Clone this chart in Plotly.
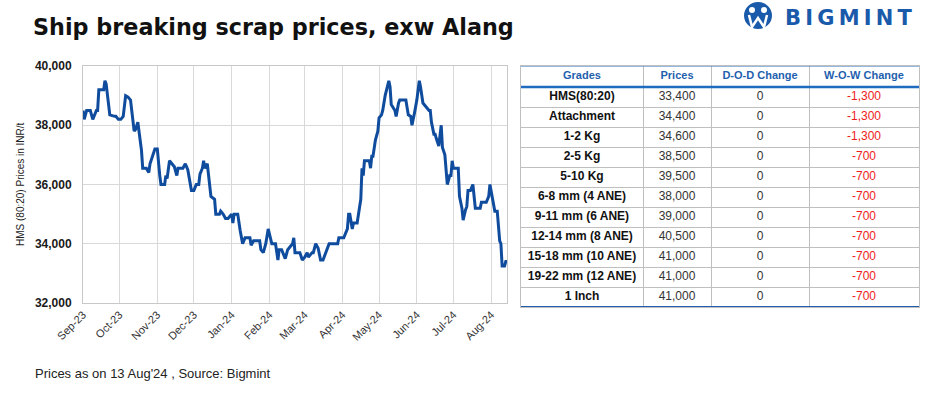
import plotly.graph_objects as go

# ---------------- data ----------------
dates = [
    "2023-09-01", "2023-09-02", "2023-09-04", "2023-09-07", "2023-09-09", "2023-09-12", "2023-09-13",
    "2023-09-14", "2023-09-18", "2023-09-19", "2023-09-20", "2023-09-23", "2023-09-27", "2023-09-28",
    "2023-09-30", "2023-10-02", "2023-10-04", "2023-10-06", "2023-10-08", "2023-10-10", "2023-10-13",
    "2023-10-14", "2023-10-16", "2023-10-17", "2023-10-19", "2023-10-20", "2023-10-23", "2023-10-25",
    "2023-10-26", "2023-10-30", "2023-11-01", "2023-11-03", "2023-11-04", "2023-11-07", "2023-11-08",
    "2023-11-09", "2023-11-11", "2023-11-13", "2023-11-15", "2023-11-17", "2023-11-18", "2023-11-22",
    "2023-11-24", "2023-11-26", "2023-11-29", "2023-12-01", "2023-12-03", "2023-12-05", "2023-12-06",
    "2023-12-08", "2023-12-09", "2023-12-10", "2023-12-12", "2023-12-15", "2023-12-18", "2023-12-19",
    "2023-12-22", "2023-12-23", "2023-12-25", "2023-12-27", "2023-12-29", "2024-01-01", "2024-01-02",
    "2024-01-03", "2024-01-06", "2024-01-08", "2024-01-10", "2024-01-12", "2024-01-16", "2024-01-17",
    "2024-01-19", "2024-01-24", "2024-01-25", "2024-01-27", "2024-01-29", "2024-01-31", "2024-02-03",
    "2024-02-06", "2024-02-08", "2024-02-09", "2024-02-11", "2024-02-14", "2024-02-16", "2024-02-18",
    "2024-02-20", "2024-02-21", "2024-02-22", "2024-02-26", "2024-02-28", "2024-03-01", "2024-03-03",
    "2024-03-04", "2024-03-07", "2024-03-08", "2024-03-10", "2024-03-12", "2024-03-14", "2024-03-16",
    "2024-03-19", "2024-03-21", "2024-03-28", "2024-03-29", "2024-04-02", "2024-04-04", "2024-04-05",
    "2024-04-06", "2024-04-07", "2024-04-09", "2024-04-10", "2024-04-13", "2024-04-15", "2024-04-16",
    "2024-04-17", "2024-04-18", "2024-04-19", "2024-04-23", "2024-04-24", "2024-04-25", "2024-04-26",
    "2024-04-28", "2024-04-30", "2024-05-01", "2024-05-03", "2024-05-04", "2024-05-06", "2024-05-09",
    "2024-05-10", "2024-05-11", "2024-05-14", "2024-05-15", "2024-05-17", "2024-05-18", "2024-05-23",
    "2024-05-25", "2024-05-27", "2024-05-28", "2024-05-30", "2024-06-01", "2024-06-03", "2024-06-04",
    "2024-06-06", "2024-06-08", "2024-06-11", "2024-06-12", "2024-06-13", "2024-06-15", "2024-06-16",
    "2024-06-17", "2024-06-19", "2024-06-21", "2024-06-22", "2024-06-24", "2024-06-25", "2024-06-26",
    "2024-06-28", "2024-06-29", "2024-06-30", "2024-07-01", "2024-07-05", "2024-07-06", "2024-07-08",
    "2024-07-09", "2024-07-11", "2024-07-12", "2024-07-13", "2024-07-15", "2024-07-17", "2024-07-18",
    "2024-07-19", "2024-07-23", "2024-07-24", "2024-07-28", "2024-07-30", "2024-07-31", "2024-08-02",
    "2024-08-04", "2024-08-06", "2024-08-08", "2024-08-09", "2024-08-10", "2024-08-12", "2024-08-13",
    "2024-08-14",
]
hms_prices = [
    38500, 38200, 38500, 38500, 38200, 38500, 38500,
    39200, 39200, 39500, 39400, 38350, 38300, 38300,
    38200, 38200, 38300, 39000, 38950, 38850, 37800,
    37850, 38100, 37800, 37150, 36550, 36550, 36400,
    36700, 37200, 37200, 36300, 36000, 36000, 36300,
    36200, 36800, 36700, 36600, 36300, 36550, 36550,
    36700, 36500, 35800, 35800, 36000, 36000, 36350,
    36550, 36800, 36550, 36700, 35600, 35500, 35000,
    35000, 35100, 35000, 34850, 34850, 35000, 34700,
    35000, 35000, 34450, 34000, 34200, 34200, 33950,
    34100, 34100, 33800, 33700, 34000, 34500, 34000,
    34000, 33450, 33800, 33800, 33500, 33800, 33900,
    34000, 34200, 33700, 33700, 33450, 33550, 33700,
    33550, 33700, 33700, 34000, 33850, 33450, 33450,
    33750, 34000, 34000, 34200, 34200, 34450, 34500,
    35000, 35000, 34500, 34700, 34700, 35150, 35500,
    36550, 36300, 36800, 36800, 36550, 36950, 36950,
    37500, 37800, 38250, 38350, 38500, 39000, 39500,
    39300, 38700, 38500, 38300, 38750, 38850, 38850,
    38350, 38300, 38000, 38400, 38850, 39500, 39300,
    38750, 38650, 38500, 38500, 38100, 37700, 37700,
    37550, 37300, 38000, 37250, 37000, 36500, 36000,
    36300, 36300, 36800, 36550, 36550, 35600, 35200,
    34800, 35150, 35250, 35800, 35800, 36000, 35500,
    35200, 35200, 35400, 35400, 35600, 36000, 35600,
    35100, 35100, 34100, 34000, 33250, 33250, 33400,
    33400,
]

grades = ["HMS(80:20)", "Attachment", "1-2 Kg", "2-5 Kg", "5-10 Kg", "6-8 mm (4 ANE)",
          "9-11 mm (6 ANE)", "12-14 mm (8 ANE)", "15-18 mm (10 ANE)", "19-22 mm (12 ANE)", "1 Inch"]
grade_prices = [33400, 34400, 34600, 38500, 39500, 38000, 39000, 40500, 41000, 41000, 41000]
dod_change = [0, 0, 0, 0, 0, 0, 0, 0, 0, 0, 0]
wow_change = [-1300, -1300, -1300, -700, -700, -700, -700, -700, -700, -700, -700]
table_headers = ["Grades", "Prices", "D-O-D Change", "W-O-W Change"]

month_ticks = ["2023-09-01", "2023-10-01", "2023-11-01", "2023-12-01", "2024-01-01", "2024-02-01",
               "2024-03-01", "2024-04-01", "2024-05-01", "2024-06-01", "2024-07-01", "2024-08-01"]
month_labels = ["Sep-23", "Oct-23", "Nov-23", "Dec-23", "Jan-24", "Feb-24",
                "Mar-24", "Apr-24", "May-24", "Jun-24", "Jul-24", "Aug-24"]

# ---------------- layout constants ----------------
W, H = 933, 396
FONT = "Liberation Sans, Arial, sans-serif"
BLUE = "#0f4c9e"
HEAD_BLUE = "#1f5fae"
GRID = "#d9d9d9"
CELL_LINE = "#bfbfbf"


def px(x):
    return x / W


def py(y):
    return 1 - y / H


plot_l, plot_r, plot_t, plot_b = 83, 507, 66, 303
tbl_left, tbl_right, tbl_top, tbl_bottom = 521, 919, 66, 307
col_widths = [122, 68, 98, 110]
header_h, row_h = 21, 20

col_edges = [0]
for w in col_widths:
    col_edges.append(col_edges[-1] + w)
col_centers = [(col_edges[i] + col_edges[i + 1]) / 2 for i in range(len(col_widths))]
n_rows = len(grades)
row_edges = [header_h + row_h * i for i in range(n_rows + 1)]
row_centers = [header_h + row_h * i + row_h / 2 for i in range(n_rows)]
tbl_w = col_edges[-1]
tbl_h = row_edges[-1]

fig = go.Figure()

# ---- line chart ----
fig.add_trace(go.Scatter(
    x=dates, y=hms_prices, mode="lines",
    line=dict(color=BLUE, width=3), showlegend=False, hoverinfo="x+y",
))

# ---- table built as text marks on its own axes ----
fmt = lambda v: f"{v:,}"
fig.add_trace(go.Scatter(
    x=col_centers, y=[header_h / 2] * len(table_headers),
    text=[f"<b>{h}</b>" for h in table_headers], mode="text",
    textfont=dict(family=FONT, size=11, color=HEAD_BLUE),
    xaxis="x2", yaxis="y2", showlegend=False, hoverinfo="skip",
))
col_texts = [
    [f"<b>{g}</b>" for g in grades],
    [fmt(v) for v in grade_prices],
    [str(v) for v in dod_change],
    [fmt(v) for v in wow_change],
]
col_colors = ["#111111", "#333333", "#333333", "#ee1c1c"]
for ci, (texts, colr) in enumerate(zip(col_texts, col_colors)):
    fig.add_trace(go.Scatter(
        x=[col_centers[ci]] * n_rows, y=row_centers, text=texts, mode="text",
        textfont=dict(family=FONT, size=12, color=colr),
        xaxis="x2", yaxis="y2", showlegend=False, hoverinfo="skip",
    ))

shapes = [
    # table accent lines
    dict(type="line", xref="x2", yref="y2", x0=0, x1=tbl_w, y0=0, y1=0,
         line=dict(color="#2e75c0", width=1)),
    dict(type="line", xref="x2", yref="y2", x0=0, x1=tbl_w, y0=header_h, y1=header_h,
         line=dict(color="#1f6bbf", width=2.5)),
    dict(type="line", xref="x2", yref="y2", x0=0, x1=tbl_w, y0=tbl_h, y1=tbl_h,
         line=dict(color="#1f5fae", width=2)),
    # logo icon
    dict(type="circle", xref="paper", yref="paper", x0=px(744), x1=px(772), y0=py(29), y1=py(2),
         fillcolor="#1a5aab", line=dict(width=0)),
    dict(type="circle", xref="paper", yref="paper", x0=px(749), x1=px(755), y0=py(13), y1=py(7),
         fillcolor="white", line=dict(width=0)),
    dict(type="circle", xref="paper", yref="paper", x0=px(761), x1=px(767), y0=py(13), y1=py(7),
         fillcolor="white", line=dict(width=0)),
    dict(type="path", xref="paper", yref="paper",
         path=f"M {px(749)} {py(15)} L {px(752)} {py(27)} L {px(758)} {py(18)} L {px(764)} {py(27)} L {px(767)} {py(15)}",
         line=dict(color="white", width=2.5)),
]

annotations = [
    dict(text="<b>Ship breaking scrap prices, exw Alang</b>", xref="paper", yref="paper",
         x=px(31), y=py(27), xanchor="left", yanchor="middle", showarrow=False,
         font=dict(family="DejaVu Sans, sans-serif", size=22.3, color="#111111")),
    dict(text="<b>B\u2009I\u2009G\u2009M\u2009I\u2009N\u2009T</b>", xref="paper", yref="paper",
         x=px(783), y=py(18), xanchor="left", yanchor="middle", showarrow=False,
         font=dict(family="DejaVu Sans, sans-serif", size=21, color="#1a5aab")),
    dict(text="HMS (80:20) Prices in INR/t", xref="paper", yref="paper",
         x=px(20), y=py(184), xanchor="center", yanchor="middle", textangle=-90, showarrow=False,
         font=dict(family=FONT, size=10, color="#222222")),
    dict(text="Prices as on 13 Aug'24 , Source: Bigmint", xref="paper", yref="paper",
         x=px(33), y=py(373), xanchor="left", yanchor="middle", showarrow=False,
         font=dict(family=FONT, size=13, color="#222222")),
]

fig.update_layout(
    width=W, height=H,
    margin=dict(l=0, r=0, t=0, b=0, autoexpand=False),
    paper_bgcolor="white", plot_bgcolor="white",
    shapes=shapes, annotations=annotations, showlegend=False,
    xaxis=dict(
        domain=[px(plot_l), px(plot_r)], anchor="y",
        type="date", range=[dates[0], dates[-1]],
        tickvals=month_ticks, ticktext=month_labels, tickangle=-45,
        tickfont=dict(family=FONT, size=11, color="#333333"),
        showgrid=True, gridcolor=GRID, gridwidth=1,
        showline=True, linecolor="#c8c8c8", linewidth=1, mirror=True,
        ticks="", zeroline=False, fixedrange=True,
    ),
    yaxis=dict(
        domain=[py(plot_b), py(plot_t)], anchor="x",
        range=[32000, 40000], dtick=2000, tickformat=",",
        tickfont=dict(family=FONT, size=12, color="#1a1a1a", weight="bold"),
        showgrid=True, gridcolor=GRID, gridwidth=1,
        showline=True, linecolor="#c8c8c8", linewidth=1, mirror=True,
        ticks="", ticklabelstandoff=8, zeroline=False, fixedrange=True,
    ),
    xaxis2=dict(
        domain=[px(tbl_left), px(tbl_right)], anchor="y2",
        range=[0, tbl_w], tickvals=col_edges[1:-1], showticklabels=False,
        showgrid=True, gridcolor=CELL_LINE, gridwidth=1,
        showline=True, linecolor=CELL_LINE, linewidth=1, mirror=True,
        ticks="", zeroline=False, fixedrange=True,
    ),
    yaxis2=dict(
        domain=[py(tbl_bottom), py(tbl_top)], anchor="x2",
        range=[tbl_h, 0], tickvals=row_edges[:-1], showticklabels=False,
        showgrid=True, gridcolor=CELL_LINE, gridwidth=1,
        showline=True, linecolor=CELL_LINE, linewidth=1, mirror=True,
        ticks="", zeroline=False, fixedrange=True,
    ),
)

fig.write_html("out.html", config={"displayModeBar": False},
               post_script="document.body.style.margin='0';")
